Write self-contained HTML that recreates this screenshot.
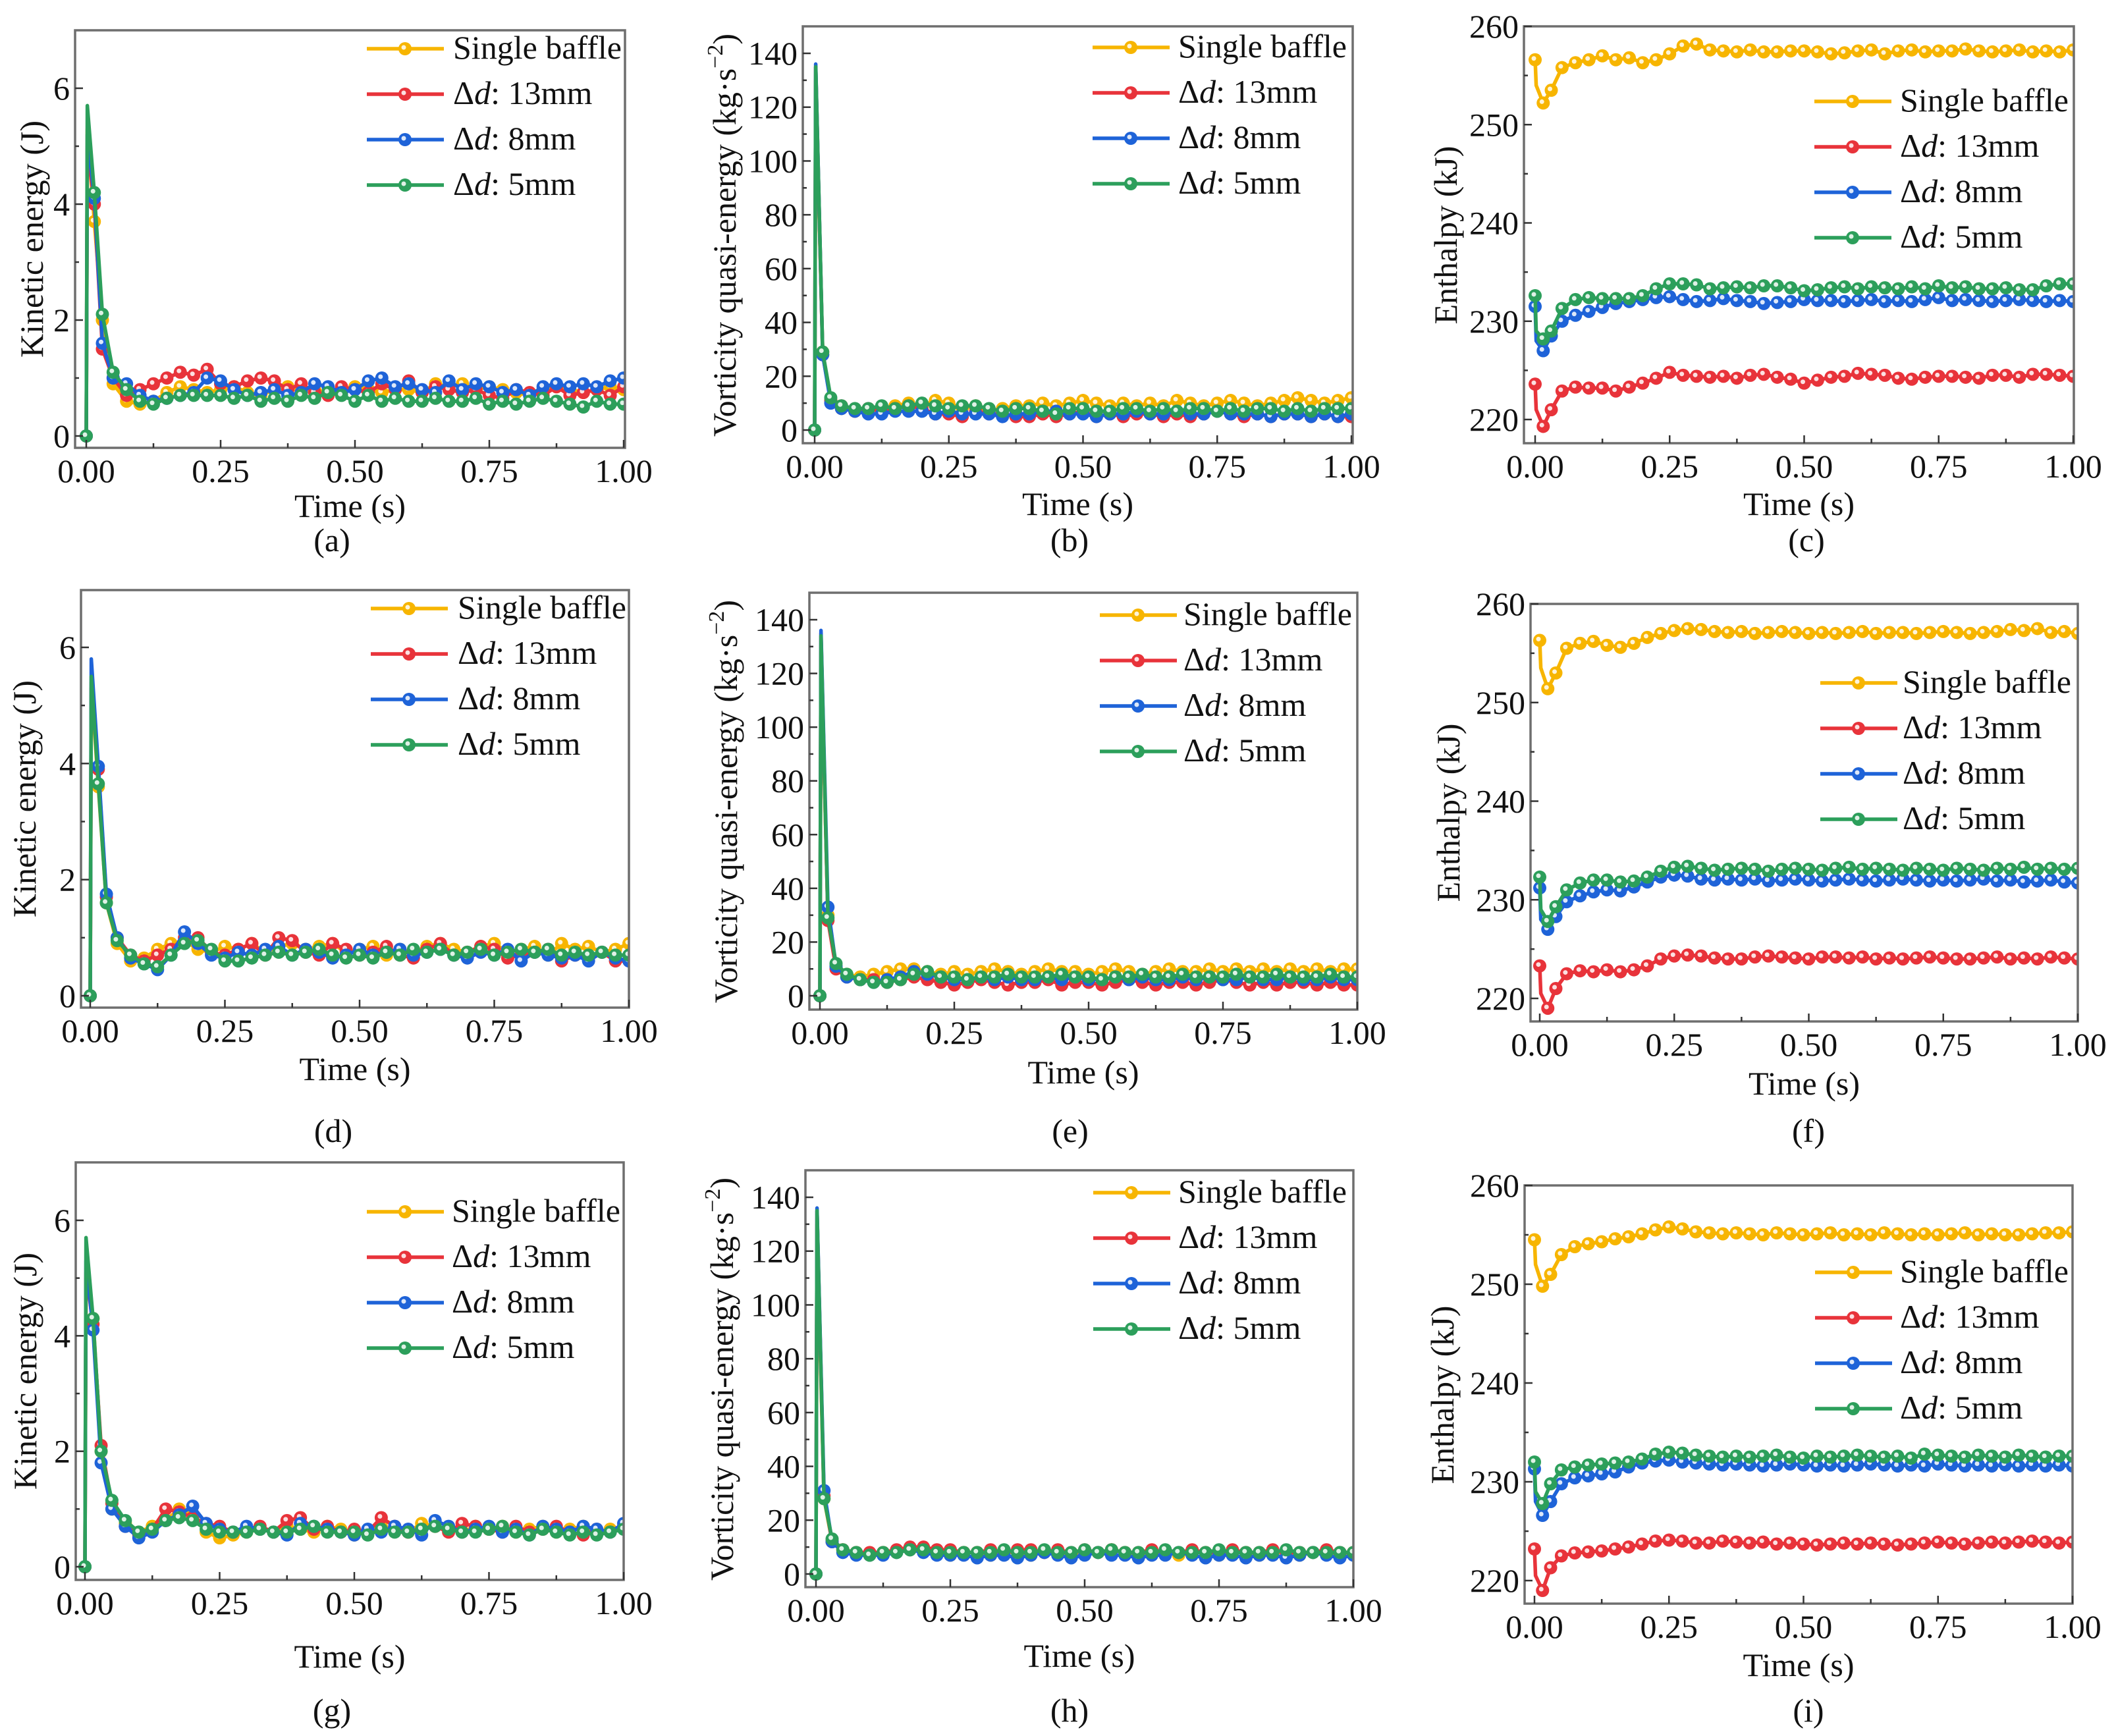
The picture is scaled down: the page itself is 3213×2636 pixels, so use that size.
<!DOCTYPE html>
<html><head><meta charset="utf-8"><style>
html,body{margin:0;padding:0;background:#fff}
#wrap{position:relative;width:3213px;height:2636px;overflow:hidden}
svg{display:block;position:absolute;left:0;top:0}
svg text,svg tspan{font-family:"Liberation Serif",serif;fill:#111}
.lbl{position:absolute;font-family:"Liberation Serif","Noto Serif CJK SC","DejaVu Serif",serif;font-size:50px;line-height:50px;color:#111;white-space:nowrap;font-synthesis:none}
.ylab{position:absolute;font-family:"Liberation Serif","Noto Serif CJK SC","DejaVu Serif",serif;font-size:50px;line-height:50px;color:#111;white-space:nowrap;transform:translate(-50%,-50%) rotate(-90deg)}
.ylab sup{font-size:34px;line-height:0;vertical-align:20px}
</style></head><body>
<div id="wrap">
<svg id="fig" width="3213" height="2636" viewBox="0 0 3213 2636" xmlns="http://www.w3.org/2000/svg"></svg>
</div>
<script>
const T=[0,0.002,0.015,0.03,0.05,0.075,0.1,0.125,0.15,0.175,0.2,0.225,0.25,0.275,0.3,0.325,0.35,0.375,0.4,0.425,0.45,0.475,0.5,0.525,0.55,0.575,0.6,0.625,0.65,0.675,0.7,0.725,0.75,0.775,0.8,0.825,0.85,0.875,0.9,0.925,0.95,0.975,1.0];
const seriesNames=["Single baffle","13mm","8mm","5mm"];
const colors=["#f7b500","#e8333a","#1e63d8","#2c9f5b"];
// (a) kinetic
const aY=[0,5.3,3.7,2.0,0.9,0.6,0.55,0.6,0.75,0.85,0.8,0.75,0.8,0.85,0.75,0.7,0.8,0.85,0.75,0.8,0.75,0.8,0.85,0.8,0.75,0.8,0.8,0.75,0.9,0.85,0.9,0.8,0.85,0.8,0.75,0.7,0.8,0.85,0.8,0.75,0.8,0.85,0.8];
const aR=[0,5.0,4.0,1.5,1.0,0.7,0.8,0.9,1.0,1.1,1.05,1.15,0.9,0.85,0.95,1.0,0.95,0.8,0.9,0.75,0.7,0.85,0.8,0.75,0.9,0.8,0.95,0.75,0.85,0.8,0.75,0.8,0.7,0.65,0.8,0.75,0.7,0.85,0.7,0.75,0.8,0.7,0.85];
const aB=[0,5.2,4.1,1.6,1.0,0.9,0.7,0.6,0.65,0.7,0.75,1.0,0.95,0.8,0.7,0.75,0.8,0.7,0.75,0.9,0.85,0.75,0.8,0.95,1.0,0.85,0.9,0.8,0.75,0.95,0.8,0.9,0.85,0.75,0.8,0.7,0.85,0.9,0.85,0.9,0.85,0.95,1.0];
const aG=[0,5.7,4.2,2.1,1.1,0.8,0.6,0.55,0.65,0.7,0.7,0.7,0.7,0.65,0.7,0.6,0.65,0.6,0.7,0.65,0.75,0.7,0.6,0.7,0.6,0.65,0.6,0.6,0.65,0.6,0.6,0.65,0.55,0.6,0.55,0.6,0.65,0.6,0.55,0.5,0.6,0.55,0.55];
// (b) vorticity
const bY=[0,130,29,11,8,7,7,8,9,10,9,11,10,8,9,7,8,9,9,10,9,10,11,10,9,10,9,10,9,11,10,9,10,11,10,9,10,11,12,11,10,11,12];
const bR=[0,135,28,11,9,7,8,7,8,9,8,6,6,5,7,6,6,5,5,6,5,6,7,5,6,5,6,6,5,6,5,6,7,6,5,6,5,6,6,5,6,5,5];
const bB=[0,136,28,10,8,7,6,6,7,7,7,6,7,6,6,6,5,6,6,7,7,6,6,5,6,6,7,6,6,7,6,6,7,6,6,6,5,6,6,5,6,5,6];
const bG=[0,135,29,12,9,8,8,9,8,9,10,9,8,9,9,8,7,8,8,7,6,8,8,7,7,8,8,7,8,7,8,8,7,8,7,8,8,7,8,7,8,8,8];
// (c) enthalpy
const cY=[256.6,254,252.2,253.5,255.8,256.3,256.6,257,256.6,256.8,256.3,256.6,257.2,258,258.2,257.6,257.5,257.4,257.6,257.4,257.4,257.5,257.5,257.4,257.2,257.3,257.5,257.6,257.2,257.5,257.6,257.4,257.5,257.5,257.7,257.5,257.4,257.5,257.6,257.4,257.5,257.4,257.6];
const cR=[223.6,221,219.3,221,222.9,223.3,223.2,223.2,222.9,223.3,223.7,224.2,224.8,224.5,224.4,224.3,224.4,224.2,224.5,224.6,224.3,224.1,223.7,224,224.3,224.4,224.7,224.6,224.5,224.2,224.1,224.3,224.4,224.4,224.3,224.2,224.5,224.5,224.3,224.6,224.6,224.5,224.4];
const cB=[231.5,228,227,228.5,230,230.6,231,231.4,231.8,232,232.2,232.4,232.5,232.2,232,232.1,232.3,232.1,232,231.8,231.9,232,232.2,232.1,232.1,232,232.1,232.2,232,232.1,232,232.2,232.4,232.1,232.2,232.1,232,232.1,232.2,232.1,232,232.1,232];
const cG=[232.6,229,228.2,229,231.3,232.2,232.4,232.3,232.3,232.3,232.6,233.3,233.8,233.8,233.7,233.3,233.4,233.5,233.4,233.6,233.6,233.4,233.1,233.2,233.4,233.5,233.3,233.5,233.4,233.3,233.5,233.3,233.6,233.4,233.5,233.3,233.3,233.4,233.2,233.2,233.6,233.8,233.8];
// (d) kinetic
const dY=[0,5.4,3.6,1.6,0.9,0.6,0.65,0.8,0.9,0.95,0.8,0.75,0.85,0.8,0.9,0.75,0.85,0.9,0.8,0.85,0.9,0.75,0.8,0.85,0.7,0.8,0.75,0.85,0.9,0.8,0.75,0.85,0.9,0.75,0.8,0.85,0.7,0.9,0.8,0.85,0.75,0.8,0.9];
const dR=[0,5.3,3.9,1.7,1.0,0.7,0.6,0.7,0.8,1.0,1.0,0.75,0.7,0.8,0.9,0.7,1.0,0.95,0.75,0.7,0.9,0.8,0.7,0.75,0.85,0.7,0.65,0.8,0.9,0.7,0.75,0.85,0.8,0.65,0.7,0.75,0.8,0.6,0.7,0.65,0.75,0.6,0.6];
const dB=[0,5.8,3.95,1.75,1.0,0.65,0.55,0.45,0.7,1.1,0.9,0.7,0.65,0.75,0.7,0.8,0.85,0.7,0.8,0.75,0.65,0.7,0.8,0.7,0.75,0.8,0.7,0.75,0.8,0.7,0.65,0.75,0.7,0.8,0.6,0.75,0.7,0.65,0.7,0.6,0.75,0.65,0.6];
const dG=[0,5.5,3.65,1.6,0.95,0.7,0.55,0.5,0.7,0.9,0.95,0.8,0.6,0.6,0.65,0.7,0.75,0.7,0.75,0.8,0.7,0.65,0.7,0.65,0.75,0.7,0.8,0.75,0.8,0.7,0.75,0.8,0.7,0.75,0.8,0.75,0.8,0.7,0.75,0.7,0.75,0.7,0.7];
// (e) vorticity
const eY=[0,128,30,11,8,7,8,9,10,10,9,8,9,8,9,10,9,8,9,10,9,9,8,9,10,9,8,9,10,9,9,10,9,10,9,10,9,10,9,10,9,10,10];
const eR=[0,135,28,10,7,6,6,5,6,7,6,5,4,5,6,5,4,5,5,6,4,5,5,4,5,6,5,4,5,5,4,5,6,5,4,5,4,5,5,4,5,4,4];
const eB=[0,136,33,11,7,6,5,6,7,9,8,7,6,6,7,6,7,6,6,7,6,7,6,6,7,6,7,6,6,7,6,7,6,6,7,6,6,7,6,6,7,6,6];
const eG=[0,134,29,12,8,6,5,5,6,8,9,7,7,6,7,7,8,7,7,7,8,7,7,6,7,7,8,7,7,8,7,7,7,8,7,7,8,7,7,7,8,7,7];
// (f) enthalpy
const fY=[256.3,253.5,251.4,253,255.5,256,256.2,255.8,255.6,256,256.6,257,257.3,257.5,257.4,257.2,257.1,257.2,257,257.1,257.2,257.1,257,257.1,257,257.1,257.2,257,257.1,257.1,257,257.1,257.2,257.1,257,257.1,257.2,257.4,257.3,257.5,257.1,257.2,257];
const fR=[223.3,220.5,219,221,222.5,222.8,222.7,222.9,222.7,222.9,223.3,224,224.3,224.4,224.3,224.1,224,224,224.2,224.3,224.2,224.1,224,224.2,224.2,224.1,224.2,224,224.1,224,224.1,224.2,224.1,224,224,224.1,224.2,224,224.1,224,224.2,224.1,224];
const fB=[231.2,228,227,228.3,229.8,230.4,230.8,231,230.9,231.3,231.8,232.3,232.5,232.4,232.1,232,232.1,232,232.1,231.9,232,232.1,232,231.9,232,232.1,232,231.9,232,232.1,232,231.9,232,231.9,232,232.1,231.9,232,231.8,231.9,232,231.8,231.7];
const fG=[232.3,229,227.8,229.3,231,231.7,232,232,231.8,231.9,232.3,232.9,233.3,233.4,233.2,233,233.1,233.2,233.1,232.9,233.1,233.2,233.1,233,233.2,233.3,233.1,233.2,233.1,233,233.2,233.1,233,233.2,233.1,233,233.2,233.1,233.3,233.1,233.2,233.1,233.2];
// (g) kinetic
const gY=[0,5.0,4.3,2.0,1.0,0.75,0.6,0.7,0.8,1.0,0.9,0.6,0.5,0.55,0.6,0.65,0.6,0.7,0.65,0.6,0.7,0.65,0.55,0.6,0.7,0.65,0.6,0.75,0.7,0.65,0.6,0.7,0.65,0.7,0.6,0.65,0.7,0.6,0.65,0.7,0.6,0.65,0.7];
const gR=[0,5.1,4.2,2.1,1.1,0.7,0.55,0.65,1.0,0.95,0.85,0.75,0.7,0.6,0.65,0.7,0.6,0.8,0.85,0.65,0.7,0.6,0.65,0.6,0.85,0.7,0.6,0.65,0.7,0.6,0.75,0.7,0.65,0.6,0.7,0.6,0.65,0.7,0.6,0.55,0.65,0.6,0.7];
const gB=[0,5.3,4.1,1.8,1.0,0.7,0.5,0.6,0.8,0.9,1.05,0.75,0.65,0.6,0.7,0.65,0.6,0.55,0.75,0.7,0.65,0.6,0.55,0.65,0.6,0.7,0.65,0.55,0.8,0.7,0.6,0.65,0.7,0.6,0.65,0.55,0.7,0.65,0.6,0.7,0.65,0.6,0.75];
const gG=[0,5.7,4.3,2.0,1.15,0.8,0.6,0.65,0.8,0.85,0.8,0.65,0.6,0.6,0.6,0.65,0.6,0.6,0.65,0.7,0.6,0.6,0.6,0.55,0.65,0.6,0.6,0.65,0.7,0.65,0.6,0.6,0.65,0.7,0.6,0.55,0.65,0.6,0.55,0.6,0.55,0.6,0.65];
// (h) vorticity
const hY=[0,130,28,12,9,8,7,8,8,9,9,8,7,8,8,7,8,8,7,8,8,7,8,8,9,8,7,8,8,7,8,8,7,8,8,7,8,8,7,8,8,7,8];
const hR=[0,135,29,12,9,8,8,8,9,10,10,9,9,8,8,9,8,9,9,8,9,8,9,8,9,8,8,9,8,8,9,8,8,9,8,8,9,8,8,8,9,8,8];
const hB=[0,136,31,12,8,7,7,7,8,9,8,7,7,7,6,7,7,6,7,8,7,6,7,8,7,7,6,7,7,8,7,6,7,7,6,7,7,6,7,8,7,6,7];
const hG=[0,135,28,13,9,8,7,8,8,9,9,8,8,8,8,8,9,8,8,9,8,8,9,8,9,8,8,8,9,8,8,8,9,8,8,8,8,9,8,8,8,8,8];
// (i) enthalpy
const iY=[254.5,252,249.8,251,253,253.8,254.1,254.3,254.6,254.8,255.1,255.5,255.8,255.6,255.3,255.2,255.1,255.2,255.1,255,255.2,255.1,255,255.1,255.2,255,255.1,255,255.2,255.1,255,255.1,255,255.1,255.2,255,255.1,255,255,255.1,255.2,255.2,255.3];
const iR=[223.2,220.5,219,221.3,222.5,222.8,222.9,223,223.2,223.4,223.7,224,224.1,224,223.8,223.8,224,223.9,223.8,223.9,223.7,223.8,223.7,223.6,223.7,223.8,223.7,223.8,223.7,223.6,223.7,223.8,223.9,223.8,223.7,223.8,223.9,223.8,223.9,224,223.9,223.8,223.9];
const iB=[231.3,228,226.6,228,229.8,230.4,230.6,230.8,231,231.5,231.9,232.1,232.2,232,231.9,231.8,231.7,231.8,231.7,231.6,231.7,231.8,231.7,231.6,231.7,231.6,231.7,231.8,231.7,231.6,231.7,231.6,231.8,231.7,231.6,231.7,231.6,231.7,231.6,231.7,231.6,231.7,231.6];
const iG=[232,229,227.8,229.8,231.2,231.5,231.7,231.8,231.9,232,232.3,232.8,233,232.9,232.7,232.6,232.5,232.6,232.5,232.6,232.7,232.5,232.4,232.6,232.5,232.6,232.7,232.6,232.5,232.6,232.4,232.8,232.7,232.6,232.5,232.7,232.6,232.5,232.7,232.6,232.5,232.6,232.6];

const xTicks=[0,0.25,0.5,0.75,1.0];
const xTickLabels=["0.00","0.25","0.50","0.75","1.00"];
const keTicks=[0,2,4,6];
const voTicks=[0,20,40,60,80,100,120,140];
const enTicks=[220,230,240,250,260];

const NS="http://www.w3.org/2000/svg";
const svg=document.getElementById('fig');
const wrap=document.getElementById('wrap');
function mk(tag,attrs,parent){const e=document.createElementNS(NS,tag);for(const k in attrs)e.setAttribute(k,attrs[k]);if(tag==='text'){e.setAttribute('font-family','Liberation Serif, serif');}(parent||svg).appendChild(e);return e;}

const panels=[
 {id:'a',kind:'ke',L:114,R:949,Tp:46,B:680,x0:131,x1:947,v0:0,p0:662,v1:6,p1:134,data:[aY,aR,aB,aG],leg:[557,688,74],ylx:48,ty:88,cap:820,capx:504},
 {id:'b',kind:'vo',L:1219,R:2054,Tp:40,B:673,x0:1237,x1:2052,v0:0,p0:653,v1:140,p1:81,data:[bY,bR,bB,bG],leg:[1659,1789,72],ylx:1100,ty:92,cap:820,capx:1624},
 {id:'c',kind:'en',L:2314,R:3149,Tp:40,B:673,x0:2331,x1:3148,v0:220,p0:637,v1:260,p1:40,data:[cY,cR,cB,cG],leg:[2755,2885,154],ylx:2195,ty:92,cap:820,capx:2743},
 {id:'d',kind:'ke',L:123,R:955,Tp:896,B:1530,x0:137,x1:955,v0:0,p0:1512,v1:6,p1:983,data:[dY,dR,dB,dG],leg:[563,695,924],ylx:37,ty:93,cap:1717,capx:506},
 {id:'e',kind:'vo',L:1229,R:2061,Tp:900,B:1533,x0:1245,x1:2061,v0:0,p0:1512,v1:140,p1:941,data:[eY,eR,eB,eG],leg:[1670,1797,934],ylx:1102,ty:95,cap:1717,capx:1625},
 {id:'f',kind:'en',L:2324,R:3155,Tp:917,B:1551,x0:2338,x1:3155,v0:220,p0:1516,v1:260,p1:917,data:[fY,fR,fB,fG],leg:[2764,2889,1037],ylx:2199,ty:94,cap:1717,capx:2746},
 {id:'g',kind:'ke',L:115,R:947,Tp:1765,B:2399,x0:129,x1:947,v0:0,p0:2379,v1:6,p1:1853,data:[gY,gR,gB,gG],leg:[557,686,1840],ylx:38,ty:116,cap:2597,capx:504},
 {id:'h',kind:'vo',L:1223,R:2055,Tp:1777,B:2410,x0:1239,x1:2055,v0:0,p0:2390,v1:140,p1:1818,data:[hY,hR,hB,hG],leg:[1660,1789,1811],ylx:1096,ty:104,cap:2597,capx:1624},
 {id:'i',kind:'en',L:2315,R:3147,Tp:1800,B:2435,x0:2330,x1:3147,v0:220,p0:2400,v1:260,p1:1800,data:[iY,iR,iB,iG],leg:[2756,2885,1932],ylx:2190,ty:93,cap:2597,capx:2746}
];

function marker(g,x,y,c){
  const m=mk('circle',{cx:x,cy:y,r:10,fill:c},g);
  
  
  mk('circle',{cx:x-2,cy:y-2,r:3.5,fill:'#fff','fill-opacity':0.85},g);
}

panels.forEach(p=>{
  const g=mk('g',{});
  
  
  const X=t=>p.x0+(t)*(p.x1-p.x0);
  const Y=v=>p.p0+(v-p.v0)*(p.p1-p.p0)/(p.v1-p.v0);
  const yt=p.kind==='ke'?keTicks:p.kind==='vo'?voTicks:enTicks;
  const ystep=yt[1]-yt[0];
  const cp=mk('clipPath',{id:'clip'+p.id},g);
  mk('rect',{x:p.L,y:p.Tp,width:p.R-p.L,height:p.B-p.Tp},cp);
  const sg=mk('g',{'clip-path':'url(#clip'+p.id+')'},g);
  p.data.forEach((arr,si)=>{
    const pts=arr.map((v,k)=>X(T[k]).toFixed(1)+','+Y(v).toFixed(1)).join(' ');
    const ln=mk('polyline',{points:pts,fill:'none',stroke:colors[si],'stroke-width':5.5,'stroke-linejoin':'round'},sg);
    
    
    arr.forEach((v,k)=>{ if(k===1) return; marker(sg,X(T[k]),Y(v),colors[si]); });
  });
  const fr=mk('rect',{x:p.L,y:p.Tp,width:p.R-p.L,height:p.B-p.Tp,fill:'none',stroke:'#6e6e6e','stroke-width':3.5},g);
  
  
  for(let k=0;k<=8;k++){
    const t=k*0.125,x=X(t),len=(k%2===0)?12:7;
    mk('line',{x1:x,y1:p.B,x2:x,y2:p.B-len,stroke:'#333','stroke-width':2.5},g);
  }
  xTicks.forEach((t,k)=>{
    const tx=mk('text',{x:X(t),y:p.B+52,'font-size':50,'text-anchor':'middle'},g);
    tx.textContent=xTickLabels[k];
    
    
  });
  yt.forEach(v=>{
    const y=Y(v);
    mk('line',{x1:p.L,y1:y,x2:p.L+12,y2:y,stroke:'#333','stroke-width':2.5},g);
    const my=Y(v+ystep/2);
    if(my>p.Tp+3) mk('line',{x1:p.L,y1:my,x2:p.L+6,y2:my,stroke:'#333','stroke-width':2.5},g);
    const tx=mk('text',{x:p.L-8,y:y+17,'font-size':50,'text-anchor':'end'},g);
    tx.textContent=String(v);
    
    
  });
  const xt=mk('text',{x:(p.L+p.R)/2,y:p.B+p.ty+17,'font-size':50,'text-anchor':'middle'},g);
  xt.textContent='Time (s)';
  
  
  const cy=(p.Tp+p.B)/2;
  const yd=document.createElement('div');
  yd.className='ylab';
  
  
  yd.style.left=p.ylx+'px'; yd.style.top=cy+'px';
  if(p.kind==='ke') yd.textContent='Kinetic energy (J)';
  else if(p.kind==='en') yd.textContent='Enthalpy (kJ)';
  else yd.innerHTML='Vorticity quasi-energy (kg·s<sup>−2</sup>)';
  wrap.appendChild(yd);
  const cap=mk('text',{x:p.capx,y:p.cap+17,'font-size':50,'text-anchor':'middle'},g);
  cap.textContent='('+p.id+')';
  
  
  const lg=mk('g',{},g);
  
  
  const [lx,tx0,ly]=p.leg;
  for(let si=0;si<4;si++){
    const y=ly+si*69;
    const e=mk('g',{},lg);
    
    
    mk('line',{x1:lx,y1:y,x2:lx+117,y2:y,stroke:colors[si],'stroke-width':5.5},e);
    marker(e,lx+58,y,colors[si]);
    const d=document.createElement('div');
    d.className='lbl';
    
    
    d.style.left=tx0+'px'; d.style.top=(y-27)+'px';
    if(si===0) d.textContent='Single baffle';
    else d.innerHTML='Δ<i>d</i>: '+seriesNames[si];
    wrap.appendChild(d);
  }
});
</script>
</body></html>
